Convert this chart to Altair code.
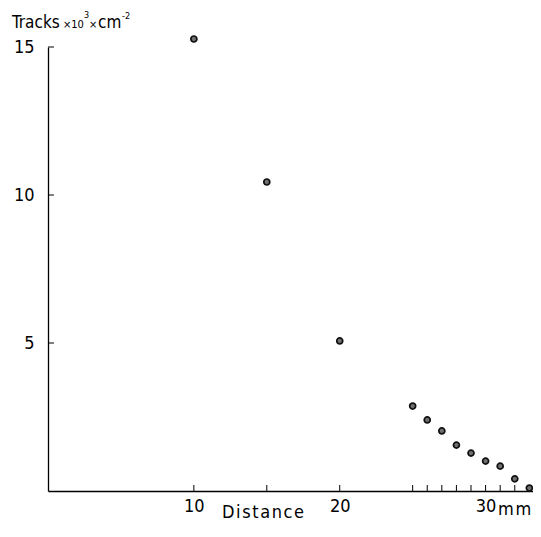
import altair as alt
import pandas as pd

# Data
distance = [10, 15, 20, 25, 26, 27, 28, 29, 30, 31, 32, 33]
tracks = [15.27, 10.44, 5.07, 2.87, 2.40, 2.03, 1.55, 1.28, 1.01, 0.84, 0.41, 0.10]
x_tick_values = [10, 15, 20, 25, 26, 27, 28, 29, 30, 31, 32]
x_label_values = [10, 20, 30]
y_tick_values = [5, 10, 15]

FONT = "DejaVu Sans Condensed"
W, H = 485, 444

df = pd.DataFrame({"distance": distance, "tracks": tracks})
xs = alt.Scale(domain=[0, 33.25], nice=False, zero=False)
ys = alt.Scale(domain=[0, 15], nice=False)
one = pd.DataFrame({"a": [0]})

x_axis = alt.Axis(
    values=x_label_values, ticks=False, grid=False, title=None,
    labelFont=FONT, labelFontSize=18, labelPadding=6, labelColor="black",
    domainColor="black", domainWidth=1.3)
y_axis = alt.Axis(
    values=y_tick_values, ticks=False, grid=False, title=None,
    labelFont=FONT, labelFontSize=18, labelPadding=14, labelColor="black",
    domainColor="black", domainWidth=1.3)

points = alt.Chart(df).mark_point(
    shape="circle", size=36, filled=True, fill="#707070", stroke="#111111",
    strokeWidth=1.7, opacity=1
).encode(
    x=alt.X("distance:Q", scale=xs, axis=x_axis),
    y=alt.Y("tracks:Q", scale=ys, axis=y_axis),
)

xticks = alt.Chart(pd.DataFrame({"t": x_tick_values})).mark_rule(
    color="black", strokeWidth=1
).encode(
    x=alt.X("t:Q", scale=xs, axis=x_axis),
    y=alt.value(H), y2=alt.value(H - 6),
)

yticks = alt.Chart(pd.DataFrame({"t": y_tick_values})).mark_rule(
    color="black", strokeWidth=1
).encode(
    y=alt.Y("t:Q", scale=ys, axis=y_axis),
    x=alt.value(0), x2=alt.value(6),
)


def txt(s, x, y, size, align="left"):
    return alt.Chart(one).mark_text(
        text=s, font=FONT, fontSize=size, align=align, baseline="alphabetic",
        color="black"
    ).encode(x=alt.value(x), y=alt.value(y))


texts = [
    txt("Tracks", -36, -19, 17),
    txt("×10", 15, -19, 11),
    txt("3", 36, -29, 9),
    txt("×", 41, -19, 11),
    txt("cm", 50, -19, 17),
    txt("-2", 74, -28, 9),
    txt("m\u200am", 450, 468, 18),
    txt("D\u200ai\u200as\u200at\u200aa\u200an\u200ac\u200ae", 215, 471, 18, "center"),
]

chart = alt.layer(points, xticks, yticks, *texts).properties(
    width=W, height=H,
    padding={"left": 40, "top": 39, "right": 0, "bottom": 33},
    autosize=alt.AutoSizeParams(type="none"),
    background="white",
).configure_view(stroke=None)

chart.save("out.html", embed_options={"renderer": "svg", "actions": False})
